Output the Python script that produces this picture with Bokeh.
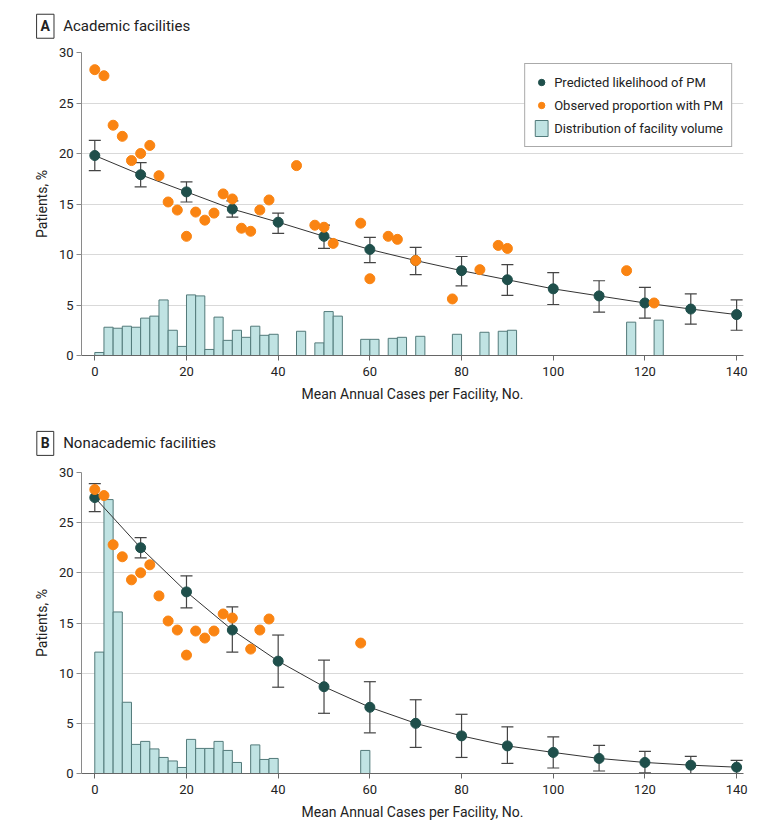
from bokeh.plotting import figure
from bokeh.models import Range1d, Label, Legend, LegendItem, Whisker, ColumnDataSource, TeeHead, FixedTicker
from bokeh.layouts import column
from bokeh.embed import file_html
from bokeh.resources import INLINE

FONT = "Roboto"

# ---------------- data ----------------
pred_x = [0, 10, 20, 30, 40, 50, 60, 70, 80, 90, 100, 110, 120, 130, 140]

# Panel A: academic facilities
pred_a = [19.8, 17.9, 16.2, 14.5, 13.2, 11.8, 10.5, 9.4, 8.4, 7.5, 6.6, 5.9, 5.2, 4.6, 4.05]
pred_a_lo = [18.3, 16.7, 15.2, 13.7, 12.1, 10.6, 9.2, 8.0, 6.9, 5.95, 5.05, 4.3, 3.7, 3.1, 2.5]
pred_a_hi = [21.3, 19.1, 17.2, 15.3, 14.1, 12.9, 11.7, 10.7, 9.8, 9.0, 8.2, 7.4, 6.75, 6.1, 5.5]

obs_a_x = [0, 2, 4, 6, 8, 10, 12, 14, 16, 18, 20, 22, 24, 26, 28, 30, 32, 34, 36, 38,
           44, 48, 50, 52, 58, 60, 64, 66, 70, 78, 84, 88, 90, 116, 122]
obs_a_y = [28.3, 27.7, 22.8, 21.7, 19.3, 20.0, 20.8, 17.8, 15.2, 14.4, 11.8, 14.2, 13.4, 14.1,
           16.0, 15.5, 12.6, 12.3, 14.4, 15.4, 18.8, 12.9, 12.7, 11.1, 13.1, 7.6, 11.8, 11.5,
           9.4, 5.6, 8.5, 10.9, 10.6, 8.4, 5.2]

bin_a = [0, 2, 4, 6, 8, 10, 12, 14, 16, 18, 20, 22, 24, 26, 28, 30, 32, 34, 36, 38,
         44, 48, 50, 52, 58, 60, 64, 66, 70, 78, 84, 88, 90, 116, 122]
vol_a = [0.3, 2.8, 2.7, 2.9, 2.8, 3.7, 3.9, 5.5, 2.5, 0.9, 6.0, 5.9, 0.6, 3.8, 1.5, 2.5,
         1.8, 2.9, 2.0, 2.1, 2.4, 1.25, 4.35, 3.9, 1.6, 1.6, 1.7, 1.8, 1.9, 2.1, 2.3, 2.4,
         2.5, 3.3, 3.5]

# Panel B: nonacademic facilities
pred_b = [27.5, 22.5, 18.1, 14.3, 11.2, 8.65, 6.6, 5.0, 3.75, 2.75, 2.1, 1.5, 1.1, 0.83, 0.63]
pred_b_lo = [26.1, 21.5, 16.5, 12.1, 8.6, 6.0, 4.05, 2.6, 1.6, 1.0, 0.55, 0.25, 0.07, 0.0, 0.0]
pred_b_hi = [28.9, 23.5, 19.7, 16.6, 13.8, 11.3, 9.15, 7.35, 5.9, 4.65, 3.65, 2.8, 2.2, 1.7, 1.3]

obs_b_x = [0, 2, 4, 6, 8, 10, 12, 14, 16, 18, 20, 22, 24, 26, 28, 30, 34, 36, 38, 58]
obs_b_y = [28.3, 27.7, 22.8, 21.6, 19.3, 20.0, 20.8, 17.7, 15.2, 14.3, 11.8, 14.2, 13.5, 14.2,
           15.9, 15.5, 12.4, 14.3, 15.4, 13.0]

bin_b = [0, 2, 4, 6, 8, 10, 12, 14, 16, 18, 20, 22, 24, 26, 28, 30, 34, 36, 38, 58]
vol_b = [12.1, 27.3, 16.1, 7.1, 2.9, 3.2, 2.45, 1.6, 1.25, 0.6, 3.4, 2.5, 2.5, 3.2, 2.3,
         1.1, 2.85, 1.4, 1.5, 2.3]

BIN_W = 2
x_ticks = [0, 20, 40, 60, 80, 100, 120, 140]
y_ticks = [0, 5, 10, 15, 20, 25, 30]

DARK = "#1f4f4b"
ORANGE = "#fa8412"
BAR_FILL = "#c0e3e3"
BAR_LINE = "#527a7a"
FIG_W = 770


def make_panel(letter, title, px, pv, plo, phi, ox, oy, bx, bv, top, bottom, legend, title_y):
    p = figure(width=FIG_W, height=top + 303 + bottom,
               x_range=Range1d(-2.9, 141.5), y_range=Range1d(0, 30),
               output_backend="svg", toolbar_location=None,
               min_border_left=81, min_border_right=27,
               min_border_top=top, min_border_bottom=bottom)
    p.outline_line_color = None
    p.background_fill_color = "white"

    centers = [b + BIN_W / 2 for b in bx]
    bars = p.vbar(x=centers, top=bv, width=BIN_W, bottom=0,
                  fill_color=BAR_FILL, line_color=BAR_LINE, line_width=1)
    p.line(px, pv, line_color="#333333", line_width=1)
    src = ColumnDataSource(dict(x=px, lo=plo, hi=phi))
    w = Whisker(source=src, base="x", lower="lo", upper="hi",
                line_color="#444444", line_width=1.2,
                upper_head=TeeHead(size=12, line_color="#444444", line_width=1.2),
                lower_head=TeeHead(size=12, line_color="#444444", line_width=1.2))
    p.add_layout(w)
    pred = p.scatter(px, pv, size=10, fill_color=DARK, line_color=DARK)
    obs = p.scatter(ox, oy, size=10, fill_color=ORANGE, line_color=ORANGE)

    # axes
    p.xaxis.ticker = FixedTicker(ticks=x_ticks)
    p.yaxis.ticker = FixedTicker(ticks=y_ticks)
    p.xaxis.minor_tick_line_color = None
    p.yaxis.minor_tick_line_color = None
    for ax in (p.xaxis, p.yaxis):
        ax.major_tick_in = 0
        ax.major_tick_out = 5
        ax.major_label_text_font = FONT
        ax.major_label_text_font_size = "13px"
        ax.major_label_text_color = "#222222"
        ax.axis_label_text_font = FONT
        ax.axis_label_text_font_size = "14px"
        ax.axis_label_text_font_style = "normal"
        ax.axis_label_text_color = "#222222"
    p.xaxis.axis_line_color = "#666666"
    p.xaxis.major_tick_line_color = "#666666"
    p.yaxis.axis_line_color = "#8a8a8a"
    p.yaxis.major_tick_line_color = "#8a8a8a"
    p.xaxis.axis_label = "Mean Annual Cases per Facility, No."
    p.yaxis.axis_label = "Patients, %"
    p.xaxis.major_label_standoff = 6
    p.yaxis.major_label_standoff = 3
    p.xaxis.axis_label_standoff = 7
    p.yaxis.axis_label_standoff = 6
    p.xgrid.grid_line_color = None
    p.ygrid.grid_line_color = "#d9d9d9"
    p.ygrid.grid_line_width = 1

    # panel letter and title, placed in the (unclipped) top side panel
    p.add_layout(Label(x=-10.8, y=title_y, text=letter, text_font=FONT,
                       text_font_size="14px", text_font_style="bold",
                       text_color="#222222",
                       text_align="center", text_baseline="middle",
                       border_line_color="#333333", border_line_width=1,
                       background_fill_color="white", padding=4), "above")
    p.add_layout(Label(x=-6.9, y=title_y, text=title, text_font=FONT,
                       text_font_size="15px", text_color="#222222",
                       text_align="left", text_baseline="middle"), "above")

    if legend:
        lg = Legend(items=[
            LegendItem(label="Predicted likelihood of PM", renderers=[pred]),
            LegendItem(label="Observed proportion with PM", renderers=[obs]),
            LegendItem(label="Distribution of facility volume", renderers=[bars]),
        ], location="top_right")
        lg.margin = 11
        lg.padding = 8
        lg.spacing = 3
        lg.glyph_height = 20
        lg.glyph_width = 16
        lg.label_standoff = 5
        lg.label_text_font = FONT
        lg.label_text_font_size = "13px"
        lg.label_text_color = "#222222"
        lg.border_line_color = "#555555"
        lg.border_line_width = 1
        lg.background_fill_color = "white"
        lg.background_fill_alpha = 1.0
        p.add_layout(lg)
    return p


pA = make_panel("A", "Academic facilities", pred_x, pred_a, pred_a_lo, pred_a_hi,
                obs_a_x, obs_a_y, bin_a, vol_a, top=52, bottom=63, legend=True,
                title_y=32.6)
pB = make_panel("B", "Nonacademic facilities", pred_x, pred_b, pred_b_lo, pred_b_hi,
                obs_b_x, obs_b_y, bin_b, vol_b, top=54, bottom=47, legend=False,
                title_y=32.9)

layout = column(pA, pB, spacing=0)
open("out.html", "w").write(file_html(layout, INLINE))
